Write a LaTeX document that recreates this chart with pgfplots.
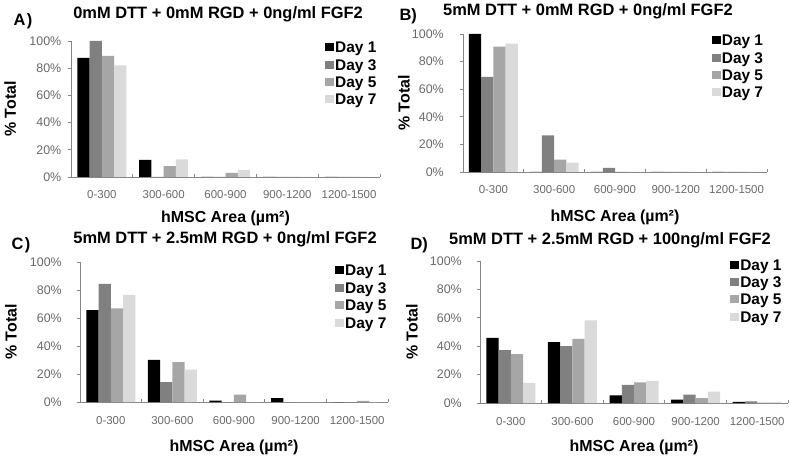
\documentclass[border=0pt]{standalone}
\usepackage{pgfplots}
\pgfplotsset{compat=1.18}
\usepackage{fontspec}
\setmainfont{Liberation Sans}
\definecolor{dayone}{HTML}{000000}
\definecolor{daythree}{HTML}{808080}
\definecolor{dayfive}{HTML}{A6A6A6}
\definecolor{dayseven}{HTML}{DADADA}
\definecolor{axgray}{HTML}{868686}
\definecolor{ticktext}{HTML}{6A6A6A}
\pgfplotsset{
  panel/.style={
    scale only axis, anchor=south west,
    ybar=0pt, bar width=12.25bp,
    ymin=0, ymax=100, xmin=-0.5, xmax=4.5,
    axis x line*=bottom, axis y line*=left,
    axis line style={draw=axgray, line width=0.7bp},
    xtick={-0.5,0.5,1.5,2.5,3.5,4.5}, xticklabels={},
    xtick align=inside, ytick align=outside,
    major tick length=3bp,
    tick style={draw=axgray, line width=0.7bp},
    extra x ticks={0,1,2,3,4},
    extra x tick labels={0-300,300-600,600-900,900-1200,1200-1500},
    extra x tick style={major tick length=0pt},
    xticklabel style={font=\fontsize{11.5}{12}\selectfont, text=ticktext, anchor=base, yshift=-22bp},
    ytick={0,20,40,60,80,100},
    yticklabel={\pgfmathprintnumber{\tick}\%},
    yticklabel style={font=\fontsize{12.5}{13}\selectfont, text=ticktext, anchor=east, inner sep=0pt},
    /pgf/number format/assume math mode=true,
    xlabel={hMSC Area (µm²)},
    ylabel={\% Total},
    label style={font=\fontsize{16}{18}\selectfont\bfseries},
    xlabel style={anchor=base},
    ylabel style={anchor=center},
    title style={font=\fontsize{16.5}{18}\selectfont\bfseries, anchor=base},
    legend style={draw=none, fill=none, inner sep=0pt, outer sep=0pt, anchor=north west,
      font=\fontsize{15.5}{17}\selectfont\bfseries, row sep=0pt, column sep=0pt,
      nodes={inner sep=1.2bp, text height=11.5bp, text depth=3.5bp}},
    legend cell align=left,
    clip=false,
  },
  sq/.style={fill=#1, draw=none, legend image code/.code={\fill[#1] (0bp,-2.5bp) rectangle (9bp,5.5bp);}},
}
\begin{document}
\begin{tikzpicture}
\fill[white] (0,0) rectangle (800bp,458bp);
\useasboundingbox (0,0) rectangle (800bp,458bp);
% Panel A
\begin{axis}[panel, at={(71bp,281bp)}, width=309bp, height=136bp,
  title={0mM DTT + 0mM RGD + 0ng/ml FGF2},
  title style={at={(axis description cs:0.476,1.118)}},
  xlabel style={at={(axis description cs:0.5,-0.331)}},
  ylabel style={at={(axis description cs:-0.197,0.5)}},
  yticklabel style={xshift=-6.5bp},
  legend style={at={(0.822,1.007)}}]
\addplot[sq=dayone] coordinates {(0,87.5) (1,12.5) (2,0) (3,0) (4,0)};
\addplot[sq=daythree] coordinates {(0,100) (1,0) (2,0) (3,0) (4,0)};
\addplot[sq=dayfive] coordinates {(0,89) (1,8) (2,3) (3,0) (4,0)};
\addplot[sq=dayseven] coordinates {(0,82) (1,13) (2,5) (3,0) (4,0)};
\legend{Day 1,Day 3,Day 5,Day 7}
\end{axis}
% Panel B
\begin{axis}[panel, at={(463bp,286bp)}, width=304bp, height=138bp,
  title={5mM DTT + 0mM RGD + 0ng/ml FGF2},
  title style={at={(axis description cs:0.411,1.094)}},
  xlabel style={at={(axis description cs:0.5,-0.362)}},
  ylabel style={at={(axis description cs:-0.194,0.5)}},
  yticklabel style={xshift=-16bp},
  legend style={at={(0.818,1.007)}}]
\addplot[sq=dayone] coordinates {(0,100) (1,0) (2,0) (3,0) (4,0)};
\addplot[sq=daythree] coordinates {(0,69) (1,26.5) (2,3) (3,0) (4,0)};
\addplot[sq=dayfive] coordinates {(0,90.8) (1,9) (2,0) (3,0) (4,0)};
\addplot[sq=dayseven] coordinates {(0,93) (1,6.8) (2,0) (3,0) (4,0)};
\legend{Day 1,Day 3,Day 5,Day 7}
\end{axis}
% Panel C
\begin{axis}[panel, at={(80bp,56bp)}, width=308bp, height=140bp,
  title={5mM DTT + 2.5mM RGD + 0ng/ml FGF2},
  title style={at={(axis description cs:0.471,1.086)}},
  xlabel style={at={(axis description cs:0.5,-0.357)}},
  ylabel style={at={(axis description cs:-0.224,0.5)}},
  yticklabel style={xshift=-15bp},
  legend style={at={(0.828,0.991)}}]
\addplot[sq=dayone] coordinates {(0,65.6) (1,30) (2,1) (3,2.8) (4,0)};
\addplot[sq=daythree] coordinates {(0,84.4) (1,14.2) (2,0) (3,0) (4,0)};
\addplot[sq=dayfive] coordinates {(0,66.8) (1,28.4) (2,5.2) (3,0) (4,0.8)};
\addplot[sq=dayseven] coordinates {(0,76.5) (1,23.2) (2,0) (3,0) (4,0)};
\legend{Day 1,Day 3,Day 5,Day 7}
\end{axis}
% Panel D
\begin{axis}[panel, at={(480bp,55bp)}, width=308bp, height=142bp,
  title={5mM DTT + 2.5mM RGD + 100ng/ml FGF2},
  title style={at={(axis description cs:0.422,1.077)}},
  xlabel style={at={(axis description cs:0.5,-0.345)}},
  ylabel style={at={(axis description cs:-0.221,0.5)}},
  yticklabel style={xshift=-15bp},
  legend style={at={(0.812,1.026)}}]
\addplot[sq=dayone] coordinates {(0,45.8) (1,42.8) (2,5.3) (3,2.4) (4,0.8)};
\addplot[sq=daythree] coordinates {(0,37.2) (1,40) (2,12.7) (3,5.9) (4,1.1)};
\addplot[sq=dayfive] coordinates {(0,34.4) (1,45.2) (2,14.5) (3,3.5) (4,0.3)};
\addplot[sq=dayseven] coordinates {(0,14.1) (1,58.2) (2,15.5) (3,8) (4,0.7)};
\legend{Day 1,Day 3,Day 5,Day 7}
\end{axis}
\node[anchor=base west, font=\fontsize{16.5}{18}\selectfont\bfseries] at (10bp,432bp) {A\hspace{1.5bp})};
\node[anchor=base west, font=\fontsize{16.5}{18}\selectfont\bfseries] at (396bp,437bp) {B)};
\node[anchor=base west, font=\fontsize{16.5}{18}\selectfont\bfseries] at (8bp,208bp) {C\hspace{1.5bp})};
\node[anchor=base west, font=\fontsize{16.5}{18}\selectfont\bfseries] at (407bp,208bp) {D)};
\end{tikzpicture}
\end{document}
